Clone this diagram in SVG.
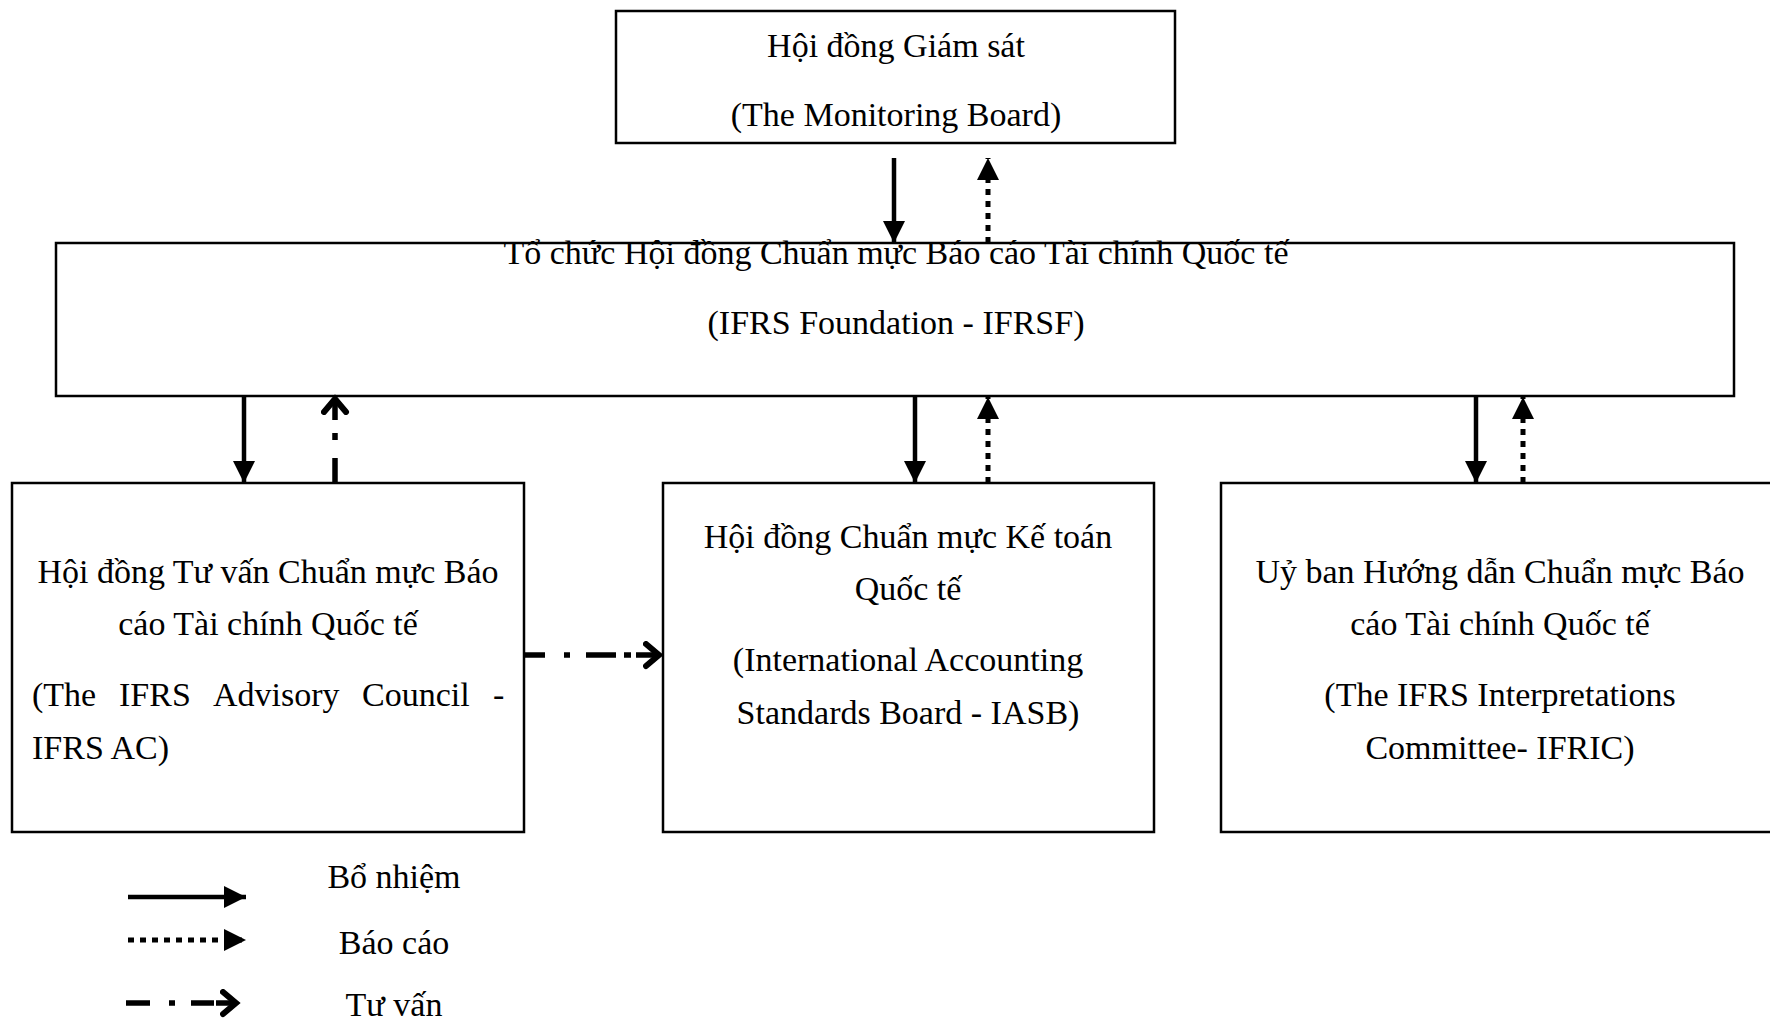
<svg xmlns="http://www.w3.org/2000/svg" width="1770" height="1020" viewBox="0 0 1770 1020">
<style>
.box{fill:#fff;stroke:#000;stroke-width:2.5}
.t{font-family:"Liberation Serif","Times New Roman",serif;font-size:34px;fill:#000}
.c{text-anchor:middle}
.solid{stroke:#000;stroke-width:4.5;fill:none}
.dot{stroke:#000;stroke-width:5;fill:none;stroke-dasharray:6 6}
.dd{stroke:#000;stroke-width:5.5;fill:none}
</style>
<defs>
<marker id="ah" markerUnits="userSpaceOnUse" markerWidth="22" markerHeight="22" refX="20" refY="10" orient="auto" viewBox="0 0 20 20">
<path d="M0,0 L20,10 L0,20 z" fill="#000"/>
</marker>
<marker id="chev" markerUnits="userSpaceOnUse" markerWidth="32" markerHeight="32" refX="16" refY="14" orient="auto" viewBox="0 0 32 32">
<path d="M3,3 L16,14 L3,25" fill="none" stroke="#000" stroke-width="6" stroke-linecap="round" stroke-linejoin="miter"/>
</marker>
</defs>
<rect width="1770" height="1020" fill="#fff"/>

<g id="connectors">
<line class="solid" x1="894" y1="158" x2="894" y2="243" marker-end="url(#ah)"/>
<line class="dot" x1="988" y1="243" x2="988" y2="158" marker-end="url(#ah)"/>
<line class="solid" x1="244" y1="396" x2="244" y2="483" marker-end="url(#ah)"/>
<path class="dd" d="M335,483 L335,458 M335,440 L335,433 M335,420 L335,399" marker-end="url(#chev)"/>
<line class="solid" x1="915" y1="396" x2="915" y2="483" marker-end="url(#ah)"/>
<line class="dot" x1="988" y1="483" x2="988" y2="397" marker-end="url(#ah)"/>
<line class="solid" x1="1476" y1="396" x2="1476" y2="483" marker-end="url(#ah)"/>
<line class="dot" x1="1523" y1="483" x2="1523" y2="397" marker-end="url(#ah)"/>
<path class="dd" d="M524,655 L545,655 M564,655 L570,655 M586,655 L616,655 M624,655 L631,655 M636,655 L659,655" marker-end="url(#chev)"/>
</g>

<g id="monitoring-board">
<rect class="box" x="616" y="11" width="559" height="132"/>
<text class="t c" x="896" y="57">Hội đồng Giám sát</text>
<text class="t c" x="896" y="126">(The Monitoring Board)</text>
</g>

<g id="ifrs-foundation">
<rect class="box" x="56" y="243" width="1678" height="153" style="fill:none"/>
<text class="t c" x="896" y="264">Tổ chức Hội đồng Chuẩn mực Báo cáo Tài chính Quốc tế</text>
<text class="t c" x="896" y="334">(IFRS Foundation - IFRSF)</text>
</g>

<g id="ifrs-ac">
<rect class="box" x="12" y="483" width="512" height="349"/>
<text class="t c" x="268" y="583">Hội đồng Tư vấn Chuẩn mực Báo</text>
<text class="t c" x="268" y="635">cáo Tài chính Quốc tế</text>
<text class="t" y="706"><tspan x="32">(The</tspan><tspan x="119">IFRS</tspan><tspan x="213">Advisory</tspan><tspan x="362">Council</tspan><tspan x="493">-</tspan></text>
<text class="t" x="32" y="759">IFRS AC)</text>
</g>

<g id="iasb">
<rect class="box" x="663" y="483" width="491" height="349"/>
<text class="t c" x="908" y="548">Hội đồng Chuẩn mực Kế toán</text>
<text class="t c" x="908" y="600">Quốc tế</text>
<text class="t c" x="908" y="671">(International Accounting</text>
<text class="t c" x="908" y="724">Standards Board - IASB)</text>
</g>

<g id="ifric">
<rect class="box" x="1221" y="483" width="560" height="349"/>
<text class="t c" x="1500" y="583">Uỷ ban Hướng dẫn Chuẩn mực Báo</text>
<text class="t c" x="1500" y="635">cáo Tài chính Quốc tế</text>
<text class="t c" x="1500" y="706">(The IFRS Interpretations</text>
<text class="t c" x="1500" y="759">Committee- IFRIC)</text>
</g>

<g id="legend">
<line class="solid" x1="128" y1="897" x2="246" y2="897" marker-end="url(#ah)"/>
<line class="dot" x1="128" y1="940" x2="246" y2="940" marker-end="url(#ah)"/>
<path class="dd" d="M126,1003 L150,1003 M169,1003 L175,1003 M191,1003 L214,1003 M216,1003 L236,1003" marker-end="url(#chev)"/>
<text class="t c" x="394" y="888">Bổ nhiệm</text>
<text class="t c" x="394" y="954">Báo cáo</text>
<text class="t c" x="394" y="1016">Tư vấn</text>
</g>
</svg>
